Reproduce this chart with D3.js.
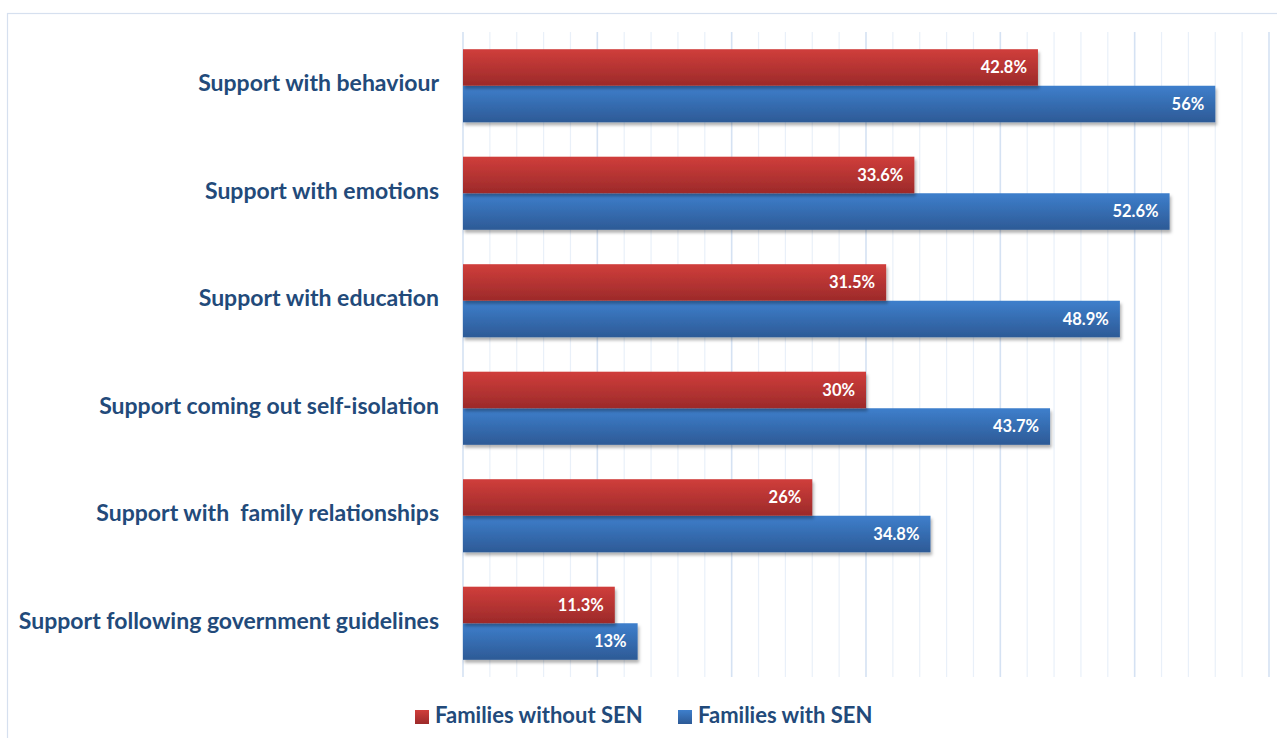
<!DOCTYPE html>
<html>
<head>
<meta charset="utf-8">
<script src="https://cdn.jsdelivr.net/npm/d3@7/dist/d3.min.js"></script>
<style>
  html, body { margin: 0; padding: 0; background: #fff; }
  svg { display: block; }
  text { font-family: Lato, "Open Sans", sans-serif; font-weight: bold; white-space: pre; }
</style>
</head>
<body>
<svg id="chart" width="1277" height="738"></svg>
<script>
// Survey responses: share of families wanting each kind of support
const categories = [
  "Support with behaviour",
  "Support with emotions",
  "Support with education",
  "Support coming out self-isolation",
  "Support with  family relationships",
  "Support following government guidelines"
];
const withoutSEN = [42.8, 33.6, 31.5, 30, 26, 11.3];
const withSEN = [56, 52.6, 48.9, 43.7, 34.8, 13];
const valueLabelsWithout = ["42.8%", "33.6%", "31.5%", "30%", "26%", "11.3%"];
const valueLabelsWith = ["56%", "52.6%", "48.9%", "43.7%", "34.8%", "13%"];
const seriesNames = ["Families without SEN", "Families with SEN"];
const gridTicks = d3.range(0, 61, 2);

const svg = d3.select("#chart");
const W = 1277, H = 738;
const plot = { left: 463, right: 1269, top: 32, bottom: 677 };

const defs = svg.append("defs");
function vGrad(id, top, bottom) {
  const g = defs.append("linearGradient").attr("id", id)
    .attr("x1", 0).attr("y1", 0).attr("x2", 0).attr("y2", 1);
  g.append("stop").attr("offset", "0%").attr("stop-color", top);
  g.append("stop").attr("offset", "100%").attr("stop-color", bottom);
}
vGrad("gradRed", "#d03e3b", "#9c2a2a");
vGrad("gradBlue", "#3e7fcc", "#2d5a96");
const shadow = defs.append("filter").attr("id", "barShadow")
  .attr("x", "-5%").attr("y", "-20%").attr("width", "115%").attr("height", "160%");
shadow.append("feDropShadow").attr("dx", 1.5).attr("dy", 3)
  .attr("stdDeviation", 1.8).attr("flood-color", "#000").attr("flood-opacity", 0.3);

// Chart frame
svg.append("rect").attr("x", 7.5).attr("y", 13.5).attr("width", W).attr("height", H)
  .attr("fill", "none").attr("stroke", "#d6e0ef").attr("stroke-width", 1.2);

const x = d3.scaleLinear().domain([0, 60]).range([plot.left, plot.right]);
const y = d3.scaleBand().domain(categories).range([plot.top, plot.bottom])
  .paddingInner(0.32).paddingOuter(0.16);
const sub = d3.scaleBand().domain(seriesNames).range([0, y.bandwidth()]);

// Vertical gridlines: light every 2%, slightly stronger every 10%
svg.append("g").selectAll("line").data(gridTicks).join("line")
  .attr("x1", d => x(d)).attr("x2", d => x(d))
  .attr("y1", plot.top).attr("y2", plot.bottom)
  .attr("stroke", d => d % 10 === 0 ? "#d5e2f3" : "#e9f0f9")
  .attr("stroke-width", d => d % 10 === 0 ? 1.6 : 1.2);

const rows = categories.map((c, i) => ({
  cat: c,
  bars: [
    { s: seriesNames[0], v: withoutSEN[i], label: valueLabelsWithout[i], fill: "url(#gradRed)" },
    { s: seriesNames[1], v: withSEN[i], label: valueLabelsWith[i], fill: "url(#gradBlue)" }
  ]
}));

const groups = svg.append("g").selectAll("g").data(rows).join("g")
  .attr("transform", d => `translate(0,${y(d.cat)})`);

// Blue drawn first so the red bar's shadow falls across its top edge
groups.each(function(d) {
  const g = d3.select(this);
  [1, 0].forEach(k => {
    const b = d.bars[k];
    g.append("rect")
      .attr("x", x(0)).attr("y", sub(b.s))
      .attr("width", x(b.v) - x(0)).attr("height", sub.bandwidth())
      .attr("fill", b.fill).attr("filter", "url(#barShadow)");
  });
  d.bars.forEach(b => {
    g.append("text")
      .attr("x", x(b.v) - 11).attr("y", sub(b.s) + sub.bandwidth() / 2)
      .attr("dy", "0.36em").attr("text-anchor", "end")
      .attr("fill", "#fff").attr("font-size", 16.5).text(b.label);
  });
});

// Category labels
svg.append("g").selectAll("text").data(categories).join("text")
  .attr("x", 439).attr("y", d => y(d) + y.bandwidth() / 2 - 3)
  .attr("dy", "0.36em").attr("text-anchor", "end")
  .attr("fill", "#224a7a").attr("font-size", 23).text(d => d);

// Legend
const legend = svg.append("g");
const legendItems = [
  { name: seriesNames[0], fill: "url(#gradRed)", x: 415 },
  { name: seriesNames[1], fill: "url(#gradBlue)", x: 678 }
];
legendItems.forEach(it => {
  legend.append("rect").attr("x", it.x).attr("y", 710).attr("width", 14).attr("height", 14)
    .attr("fill", it.fill);
  legend.append("text").attr("x", it.x + 20).attr("y", 715).attr("dy", "0.36em")
    .attr("fill", "#224a7a").attr("font-size", 22).text(it.name);
});
</script>
</body>
</html>
